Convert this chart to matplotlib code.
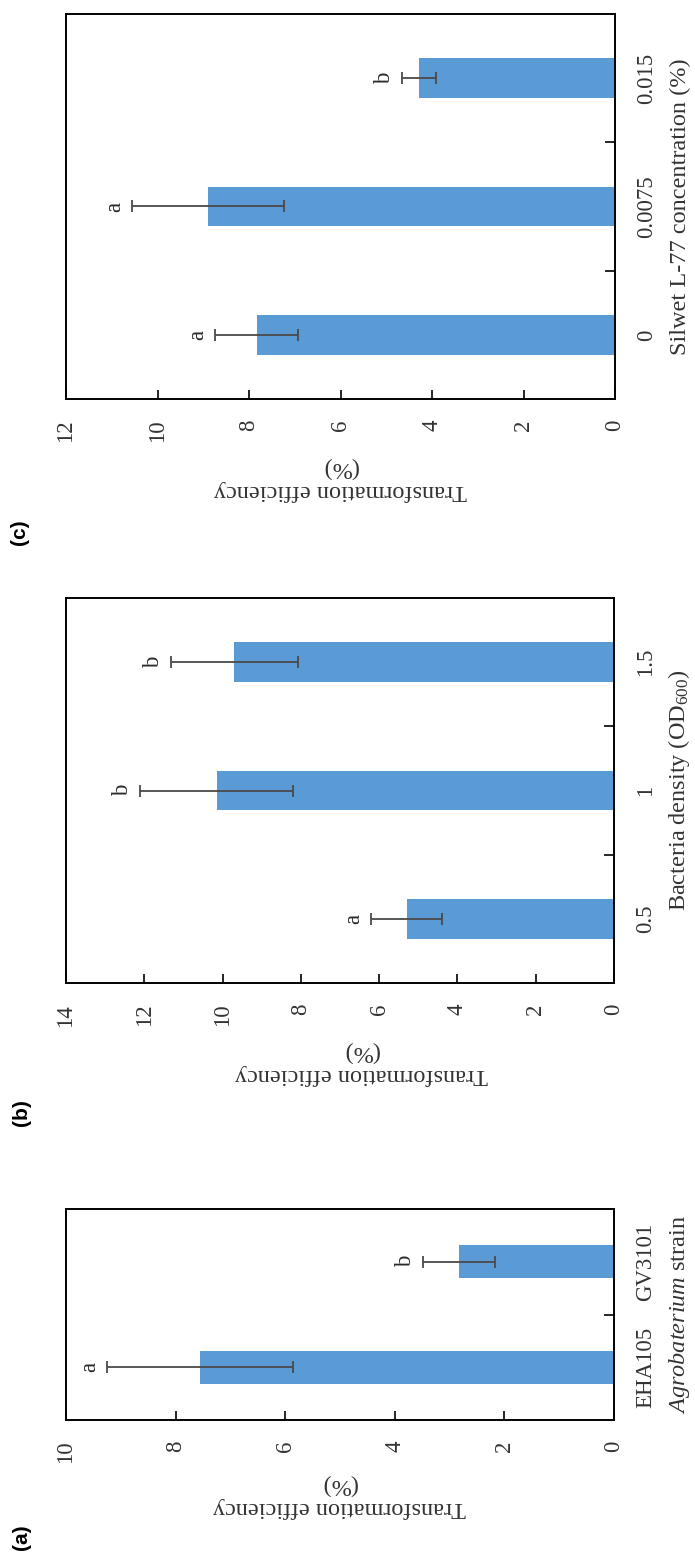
import matplotlib
matplotlib.use('Agg')
import matplotlib.pyplot as plt

plt.rcParams['font.family'] = ['Liberation Serif', 'DejaVu Serif']
plt.rcParams['mathtext.fontset'] = 'custom'
plt.rcParams['mathtext.rm'] = 'Liberation Serif'
plt.rcParams['mathtext.it'] = 'Liberation Serif:italic'

# (a) Agrobacterium strain
strain = ['EHA105', 'GV3101']
eff_strain = [7.55, 2.83]
err_strain = [1.70, 0.65]
sig_strain = ['a', 'b']

# (b) bacteria density
density = ['0.5', '1', '1.5']
eff_density = [5.30, 10.15, 9.70]
err_density = [0.90, 1.96, 1.62]
sig_density = ['a', 'b', 'b']

# (c) Silwet L-77
silwet = ['0', '0.0075', '0.015']
eff_silwet = [7.83, 8.90, 4.28]
err_silwet = [0.91, 1.66, 0.37]
sig_silwet = ['a', 'a', 'b']

W, H = 695, 1555
fig = plt.figure(figsize=(W / 100, H / 100), dpi=100)


def px_axes(left, top, right, bottom):
    # pixel box (from top-left) -> figure fraction
    return [left / W, (H - bottom) / H, (right - left) / W, (bottom - top) / H]


# The whole figure is drawn turned 90 degrees (as in the source image)
def panel(box, cats, eff, err, sig, vmax, catlabel, ylab_x, ylab_dy, tag, tag_xy):
    ax = fig.add_axes(px_axes(*box))
    pos = list(range(len(cats)))
    ax.barh(pos, eff, height=0.31, color='#5B9BD5', zorder=2)
    ax.errorbar(eff, pos, xerr=err, fmt='none', ecolor='#4a4a4a',
                elinewidth=1.3, capsize=4.5, capthick=1.3, zorder=3)
    for p, v, e, s in zip(pos, eff, err, sig):
        ax.annotate(s, (v + e, p), xytext=(-5, 0), textcoords='offset points',
                    rotation=90, ha='right', va='center', fontsize=16.5,
                    color='#2a2a2a')

    ax.set_xlim(vmax, 0)
    ax.set_ylim(-0.5, len(cats) - 0.5)
    ax.set_xticks(range(0, vmax + 1, 2))
    ax.tick_params(axis='x', direction='in', length=6.5, width=1.2,
                   labelsize=16.5, labelrotation=90, pad=15, colors='black')
    for lab in ax.get_xticklabels():
        lab.set_color('#333333')

    ax.yaxis.tick_right()
    ax.set_yticks(pos)
    ax.set_yticklabels(cats)
    ax.tick_params(axis='y', which='major', length=0, labelsize=16.5,
                   labelrotation=90, pad=15)
    for lab in ax.get_yticklabels():
        lab.set_va('center')
        lab.set_color('#333333')
    ax.set_yticks([p + 0.5 for p in pos[:-1]], minor=True)
    ax.tick_params(axis='y', which='minor', direction='in', length=7,
                   width=1.2, right=True, left=False)

    for sp in ax.spines.values():
        sp.set_linewidth(1.4)
        sp.set_color('black')

    left, top, right, bottom = box
    # category axis title on the right, reading upwards
    fig.text((right + 65) / W, 1 - ((top + bottom) / 2) / H, catlabel,
             rotation=90, ha='center', va='center', fontsize=17.5,
             color='#333333')
    # value axis title below, upside down
    fig.text(ylab_x / W, 1 - (bottom + ylab_dy) / H,
             'Transformation efficiency\n(%)', rotation=180,
             ha='center', va='center', multialignment='center',
             fontsize=17.5, color='#333333', linespacing=1.1)
    fig.text(tag_xy[0] / W, 1 - tag_xy[1] / H, tag, rotation=90,
             ha='center', va='center', fontsize=15, fontweight='bold',
             family='Liberation Sans')
    return ax


panel((66, 14, 615, 399), silwet, eff_silwet, err_silwet, sig_silwet, 12,
      'Silwet L-77 concentration (%)', 340, 80, '(c)', (20, 532))
panel((66, 598, 614, 983), density, eff_density, err_density, sig_density, 14,
      r'Bacteria density (OD$_{\mathregular{600}}$)', 361, 80, '(b)', (22, 1113))
panel((66, 1209, 614, 1420), strain, eff_strain, err_strain, sig_strain, 10,
      r'$\mathit{Agrobaterium}$ strain', 339, 76, '(a)', (22, 1537))

fig.savefig('out.png', dpi=100)
